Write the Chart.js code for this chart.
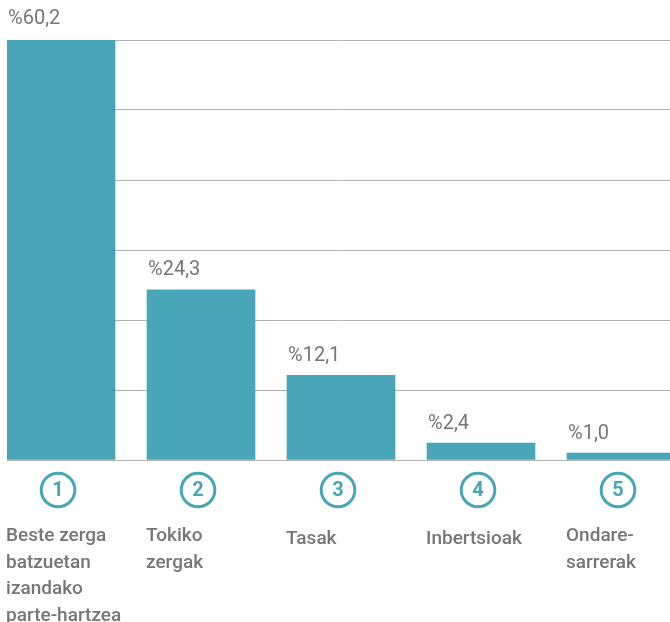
<!DOCTYPE html>
<html>
<head>
<meta charset="utf-8">
<script src="https://cdn.jsdelivr.net/npm/chart.js@4"></script>
<style>
  body { margin: 0; background: #fff; }
  canvas { display: block; }
</style>
</head>
<body>
<canvas id="chart" width="670" height="622"></canvas>
<script>
// Data
const categoryLines = [
  ["Beste zerga", "batzuetan", "izandako", "parte-hartzea"],
  ["Tokiko", "zergak"],
  ["Tasak"],
  ["Inbertsioak"],
  ["Ondare-", "sarrerak"]
];
const categoryNumbers = ["1", "2", "3", "4", "5"];
const shares = [60.2, 24.3, 12.1, 2.4, 1.0];
const yTicks = [0, 10, 20, 30, 40, 50, 60];

const teal = "#49a5b8";
const textGray = "#767676";

/* =========================
   LABELS UNDER / OVER BARS
========================= */
const labelPlugin = {
  id: "labels",
  afterDatasetsDraw(chart) {
    const ctx = chart.ctx;
    const bars = chart.getDatasetMeta(0).data;
    ctx.save();
    bars.forEach((bar, i) => {
      const left = bar.x - bar.width / 2;

      // value above bar
      ctx.fillStyle = textGray;
      ctx.font = "400 20px Roboto";
      ctx.textAlign = "left";
      ctx.textBaseline = "alphabetic";
      ctx.fillText("%" + shares[i].toFixed(1).replace(".", ","), left + 1, bar.y - 14.5);

      // number circle
      const cx = bar.x - 3;
      const cy = chart.chartArea.bottom + 30;
      ctx.beginPath();
      ctx.arc(cx, cy, 16.8, 0, Math.PI * 2);
      ctx.strokeStyle = teal;
      ctx.lineWidth = 3;
      ctx.stroke();
      ctx.fillStyle = teal;
      ctx.font = "700 20px Roboto";
      ctx.textAlign = "center";
      ctx.textBaseline = "middle";
      ctx.fillText(categoryNumbers[i], cx, cy + 1);

      // category name
      ctx.fillStyle = textGray;
      ctx.font = "500 19px Roboto";
      ctx.textAlign = "left";
      ctx.textBaseline = "alphabetic";
      const lines = categoryLines[i];
      const y0 = chart.chartArea.bottom + (lines.length === 1 ? 83.5 : 81);
      lines.forEach((line, j) => {
        ctx.fillText(line, left - 1, y0 + j * 26.5);
      });
    });
    ctx.restore();
  }
};

new Chart(document.getElementById("chart"), {
  type: "bar",
  data: {
    datasets: [{
      data: shares.map((v, i) => ({ x: i + 1, y: v })),
      backgroundColor: teal,
      barThickness: 108
    }]
  },
  options: {
    responsive: false,
    animation: false,
    layout: { padding: { left: 7, right: 0, top: 40, bottom: 162 } },
    plugins: { legend: { display: false }, tooltip: { enabled: false } },
    scales: {
      x: {
        type: "linear",
        offset: false,
        min: 0.614,
        max: 5.35,
        display: false
      },
      y: {
        min: 0,
        max: 60,
        afterBuildTicks: (scale) => {
          scale.ticks = yTicks.map(v => ({ value: v }));
        },
        ticks: { display: false },
        border: { display: false },
        grid: { color: "#b3b3b3", lineWidth: 1, drawTicks: false }
      }
    }
  },
  plugins: [labelPlugin]
});
</script>
</body>
</html>
